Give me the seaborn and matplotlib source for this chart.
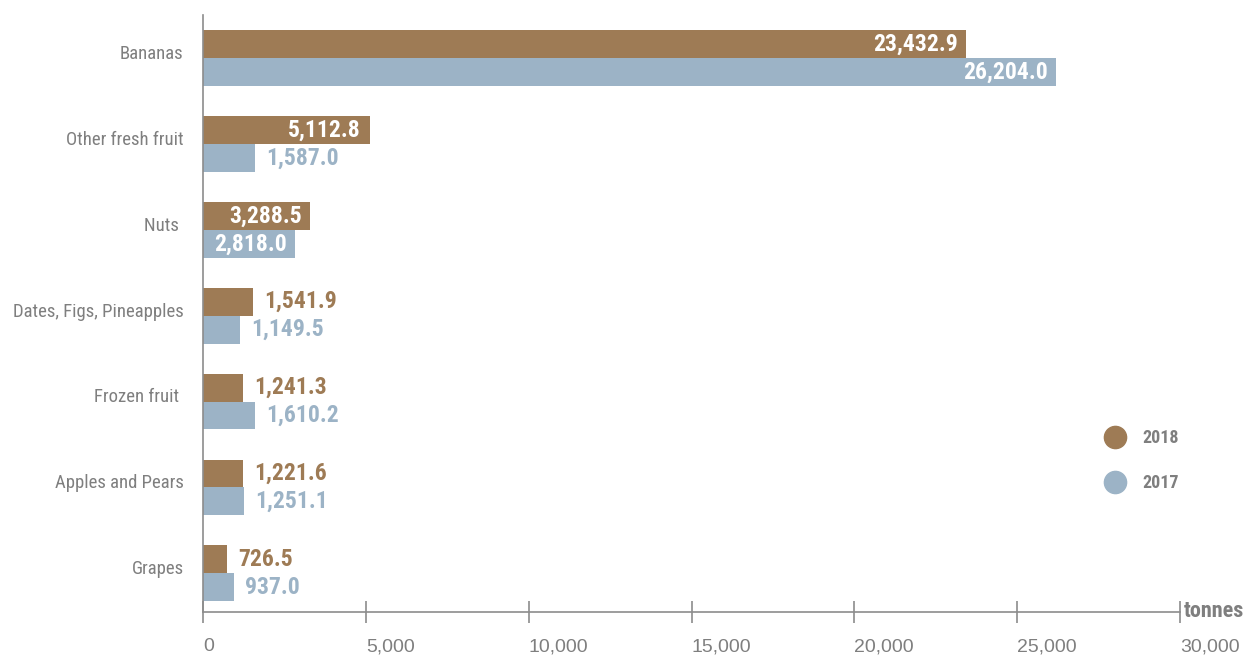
import pandas as pd
import matplotlib
matplotlib.use("Agg")
import matplotlib.pyplot as plt
from matplotlib import font_manager as fm
from matplotlib.lines import Line2D
import seaborn as sns

categories = ["Bananas", "Other fresh fruit", "Nuts ", "Dates, Figs, Pineapples",
              "Frozen fruit ", "Apples and Pears", "Grapes"]
v2018 = [23432.9, 5112.8, 3288.5, 1541.9, 1241.3, 1221.6, 726.5]
v2017 = [26204.0, 1587.0, 2818.0, 1149.5, 1610.2, 1251.1, 937.0]
years = ["2018", "2017"]
xticks = [0, 5000, 10000, 15000, 20000, 25000, 30000]

BROWN = "#9e7b55"
BLUE = "#9cb3c6"
GREY = "#7f7f7f"
palette = {"2018": BROWN, "2017": BLUE}

df = pd.concat([
    pd.DataFrame({"fruit": categories, "value": v2018, "year": "2018"}),
    pd.DataFrame({"fruit": categories, "value": v2017, "year": "2017"}),
], ignore_index=True)

# pick a narrow face if one is around (the original uses a condensed grotesque)
installed = {f.name for f in fm.fontManager.ttflist}
stretch = "normal"
if "Roboto Condensed" in installed:
    NARROW = "Roboto Condensed"
elif "Liberation Sans Narrow" in installed:
    NARROW = "Liberation Sans Narrow"
elif any(f.name == "DejaVu Sans" and f.stretch == "condensed" for f in fm.fontManager.ttflist):
    NARROW, stretch = "DejaVu Sans", "condensed"
else:
    NARROW = "Roboto"

sns.set_style("white")
plt.rcParams["font.family"] = [NARROW, "DejaVu Sans"]
plt.rcParams["font.stretch"] = stretch

fig = plt.figure(figsize=(12.5, 6.57), dpi=100)
ax = fig.add_axes([0.1624, 0.0685, 0.9440 - 0.1624, 0.977 - 0.0685])

sns.barplot(data=df, x="value", y="fruit", hue="year", hue_order=years,
            palette=palette, orient="h", width=0.65, saturation=1,
            errorbar=None, legend=False, linewidth=0, ax=ax)

# value labels: inside (white) for long bars, outside (coloured) for short ones
for cont, yr in zip(ax.containers, years):
    for bar in cont:
        w = bar.get_width()
        yc = bar.get_y() + bar.get_height() / 2
        txt = f"{w:,.1f}"
        if w > 2000:
            ax.annotate(txt, (w, yc), xytext=(-6, 0), textcoords="offset points",
                        ha="right", va="center", color="white",
                        fontsize=17, fontweight="bold")
        else:
            ax.annotate(txt, (w, yc), xytext=(8, 0), textcoords="offset points",
                        ha="left", va="center", color=palette[yr],
                        fontsize=17, fontweight="bold")

ax.set_xlim(0, 30000)
ax.set_ylim(6.45, -0.5)
ax.set_xticks(xticks)
ax.set_xticklabels([f"{t:,}" for t in xticks], family="Liberation Sans",
                   stretch="normal", color=GREY, fontsize=14, ha="left")
ax.set_xlabel("")
ax.set_ylabel("")

# category names sit a little above the middle of each pair, so they are
# written next to the axis instead of as tick labels
ax.set_yticklabels([])
for i, name in enumerate(categories):
    ax.annotate(name, (0, i), xycoords=("axes fraction", "data"),
                xytext=(-14, 3), textcoords="offset points",
                ha="right", va="center", color=GREY, fontsize=13.5,
                fontweight="normal", annotation_clip=False)

sns.despine(ax=ax, top=True, right=True)
for s in ("left", "bottom"):
    ax.spines[s].set_color("#8c8c8c")
    ax.spines[s].set_linewidth(1.2)
ax.tick_params(axis="x", bottom=True, direction="inout", length=16, width=1.2,
               color="#8c8c8c", pad=11)
ax.tick_params(axis="y", left=False, length=0)

ax.annotate("tonnes", (1, 0), xycoords="axes fraction", xytext=(3, 1),
            textcoords="offset points", ha="left", va="center",
            color=GREY, fontsize=16, fontweight="bold")

handles = [Line2D([], [], marker="o", linestyle="", markersize=16,
                  markerfacecolor=palette[y], markeredgecolor=palette[y])
           for y in years]
fig.legend(handles, years, loc="center left",
           bbox_to_anchor=(1104 / 1250, (657 - 460.5) / 657),
           frameon=False, handlelength=1.2, handletextpad=0.9,
           labelspacing=1.5, borderpad=0, borderaxespad=0,
           prop={"weight": "bold", "size": 13}, labelcolor=GREY)

fig.savefig("out.png", dpi=100)
